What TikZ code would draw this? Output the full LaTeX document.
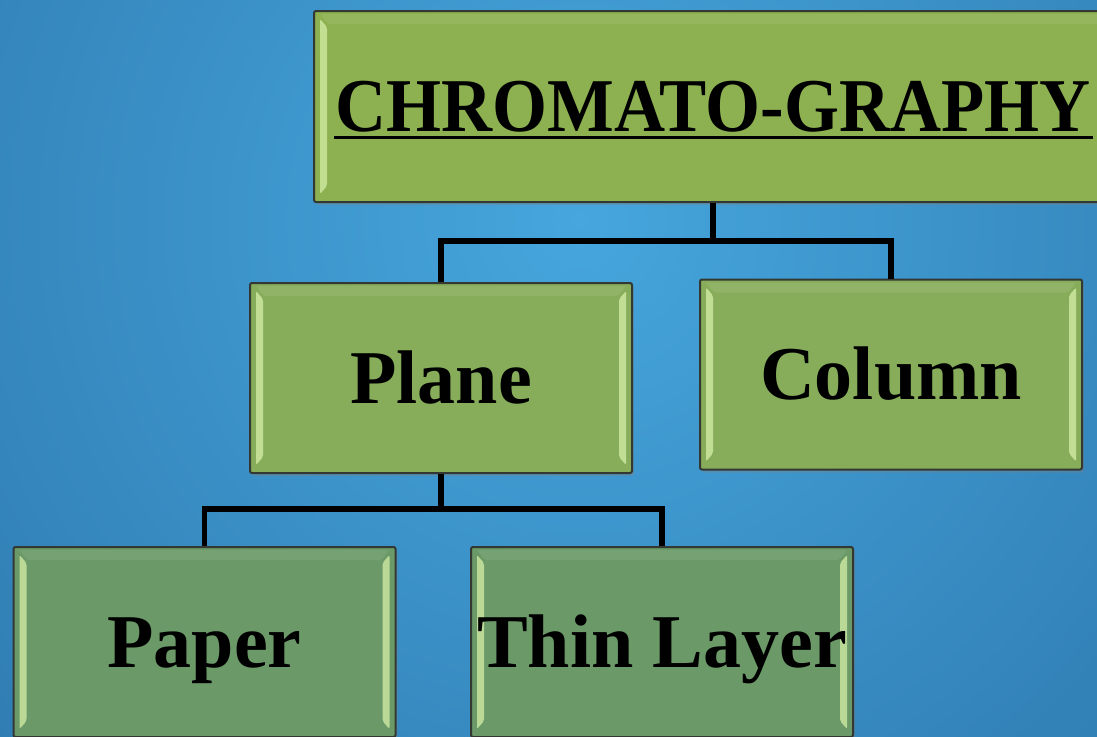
\documentclass[tikz,border=0pt]{standalone}
\usepackage{fontspec}
\setmainfont{Liberation Serif}
\usetikzlibrary{shadows}
\definecolor{bgin}{HTML}{46A6DD}
\definecolor{bgout}{HTML}{1F5F94}
\definecolor{ftitle}{HTML}{8DB050}
\definecolor{fmid}{HTML}{87AD5B}
\definecolor{flow}{HTML}{6B9A68}
\definecolor{hilite}{HTML}{D5EFA8}
\definecolor{edge}{HTML}{333833}
\begin{document}
\begin{tikzpicture}[x=1pt,y=-1pt,
  box/.style={draw=edge, line width=2pt, rounded corners=2pt,
    minimum width=382pt, minimum height=190pt, inner sep=0pt,
    text height=50pt, text depth=0pt,
    font=\bfseries\fontsize{76}{80}\selectfont,
    drop shadow={opacity=0.35, shadow xshift=2pt, shadow yshift=-3pt},
    path picture={
      \fill[hilite, opacity=0.75]
        ([xshift=6pt,yshift=-8pt]path picture bounding box.north west) --
        ([xshift=13pt,yshift=-16pt]path picture bounding box.north west) --
        ([xshift=13pt,yshift=16pt]path picture bounding box.south west) --
        ([xshift=6pt,yshift=8pt]path picture bounding box.south west) -- cycle;
      \fill[hilite, opacity=0.75]
        ([xshift=-6pt,yshift=-8pt]path picture bounding box.north east) --
        ([xshift=-13pt,yshift=-16pt]path picture bounding box.north east) --
        ([xshift=-13pt,yshift=16pt]path picture bounding box.south east) --
        ([xshift=-6pt,yshift=8pt]path picture bounding box.south east) -- cycle;
      \fill[white, opacity=0.08]
        ([xshift=6pt,yshift=-3pt]path picture bounding box.north west) --
        ([xshift=-6pt,yshift=-3pt]path picture bounding box.north east) --
        ([xshift=-14pt,yshift=-13pt]path picture bounding box.north east) --
        ([xshift=14pt,yshift=-13pt]path picture bounding box.north west) -- cycle;
    }},
  link/.style={line width=5.5pt, draw=black}
]
\useasboundingbox (0,0) rectangle (1097,736);
\clip (0,0) rectangle (1097,736);
\shade[inner color=bgin, outer color=bgout] (580,220) circle (1350);

\node[box, fill=ftitle, minimum width=798pt, minimum height=191pt] (chrom) at (713,106.5)
  {\scalebox{0.93}[1]{CHROMATO-GRAPHY}};
\draw[line width=3.2pt] (334,137.5) -- (1093,137.5);

\node[box, fill=fmid] (plane) at (441,378) {Plane};
\node[box, fill=fmid] (column) at (891,374.5) {Column};
\node[box, fill=flow] (paper) at (204.5,642) {Paper};
\node[box, fill=flow] (thin) at (662,642) {Thin Layer};

\coordinate (bus1) at (0,241);
\coordinate (bus2) at (0,509);
\draw[link] (chrom.south) -- (chrom.south |- bus1) -| (plane.north);
\draw[link] (chrom.south |- bus1) -| (column.north);
\draw[link] (plane.south) -- (plane.south |- bus2) -| (paper.north);
\draw[link] (plane.south |- bus2) -| (thin.north);
\end{tikzpicture}
\end{document}
